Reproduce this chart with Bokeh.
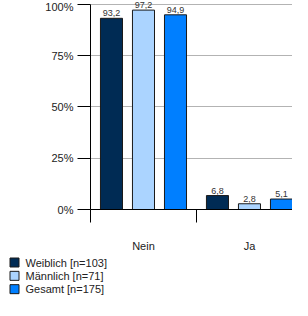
from bokeh.plotting import figure
from bokeh.layouts import column
from bokeh.models import ColumnDataSource, FixedTicker, Range1d
from bokeh.core.properties import value
from bokeh.embed import file_html
from bokeh.resources import INLINE

categories = ["Nein", "Ja"]
series_names = ["Weiblich [n=103]", "Männlich [n=71]", "Gesamt [n=175]"]
weiblich = [93.2, 6.8]
maennlich = [97.2, 2.8]
gesamt = [94.9, 5.1]
y_ticks = [0, 25, 50, 75, 100]
colors = ["#002b54", "#abd4ff", "#007fff"]

series = [weiblich, maennlich, gesamt]
offsets = [-0.302, 0.0, 0.302]
bar_w = 0.208

FONT = "Liberation Sans"

p = figure(width=292, height=254, output_backend="svg", toolbar_location=None,
           x_range=Range1d(0, 1.906), y_range=Range1d(0, 101.88),
           min_border_left=90, min_border_right=0, min_border_top=0, min_border_bottom=37)
p.outline_line_color = None
p.frame_align = False
p.margin = 0

for vals, off, col in zip(series, offsets, colors):
    src = ColumnDataSource(dict(
        x=[i + 0.5 + off for i in range(len(categories))],
        top=vals,
        lab=[f"{v:.1f}".replace(".", ",") for v in vals],
    ))
    p.vbar(x="x", top="top", width=bar_w, bottom=0, source=src,
           fill_color=col, line_color="#1a1a1a", line_width=1)
    p.text(x="x", y="top", text="lab", source=src, text_align="center",
           text_baseline="bottom", y_offset=-2, text_font_size="9px",
           text_font=value(FONT), text_color="#333333")

# y axis
p.yaxis.ticker = FixedTicker(ticks=y_ticks)
p.yaxis.bounds = (0, 100)
p.yaxis.major_label_overrides = {t: f"{t}%" for t in y_ticks}
p.yaxis.major_tick_out = 13
p.yaxis.major_tick_in = 0
p.yaxis.minor_tick_line_color = None
p.yaxis.major_label_text_font = FONT
p.yaxis.major_label_text_font_size = "11px"
p.yaxis.major_label_text_color = "#222222"
p.yaxis.major_label_standoff = 4
p.yaxis.axis_line_color = "black"

# x axis
p.xaxis.ticker = FixedTicker(ticks=[i + 0.5 for i in range(len(categories))],
                             minor_ticks=[float(i) for i in range(len(categories) + 1)])
p.xaxis.major_label_overrides = {i + 0.5: c for i, c in enumerate(categories)}
p.xaxis.major_tick_line_color = None
p.xaxis.major_tick_out = 0
p.xaxis.major_tick_in = 0
p.xaxis.minor_tick_out = 13
p.xaxis.minor_tick_in = 0
p.xaxis.minor_tick_line_color = "black"
p.xaxis.major_label_text_font = FONT
p.xaxis.major_label_text_font_size = "11px"
p.xaxis.major_label_text_color = "#222222"
p.xaxis.major_label_standoff = 17
p.xaxis.axis_line_color = "black"

p.xgrid.grid_line_color = None
p.ygrid.ticker = FixedTicker(ticks=y_ticks)
p.ygrid.grid_line_color = "#b3b3b3"

# legend as a separate small figure below the chart
n = len(series_names)
leg = figure(width=292, height=42, output_backend="svg", toolbar_location=None,
             x_range=Range1d(0, 292), y_range=Range1d(2.55, -0.6),
             min_border=0, x_axis_type=None, y_axis_type=None)
leg.outline_line_color = None
leg.grid.visible = False
leg.frame_align = False
leg.margin = 0
lsrc = ColumnDataSource(dict(
    x=[14] * n, tx=[25] * n, y=list(range(n)), name=series_names, color=colors,
))
leg.scatter(x="x", y="y", source=lsrc, marker="square", size=9,
            fill_color="color", line_color="#1a1a1a", line_width=1)
leg.text(x="tx", y="y", text="name", source=lsrc, text_baseline="middle",
         text_align="left", text_font_size="11px", text_font=value(FONT),
         text_color="#222222")

layout = column(p, leg, spacing=0, margin=0, width=292, height=296, sizing_mode="fixed")
open("out.html", "w").write(file_html(layout, INLINE))
